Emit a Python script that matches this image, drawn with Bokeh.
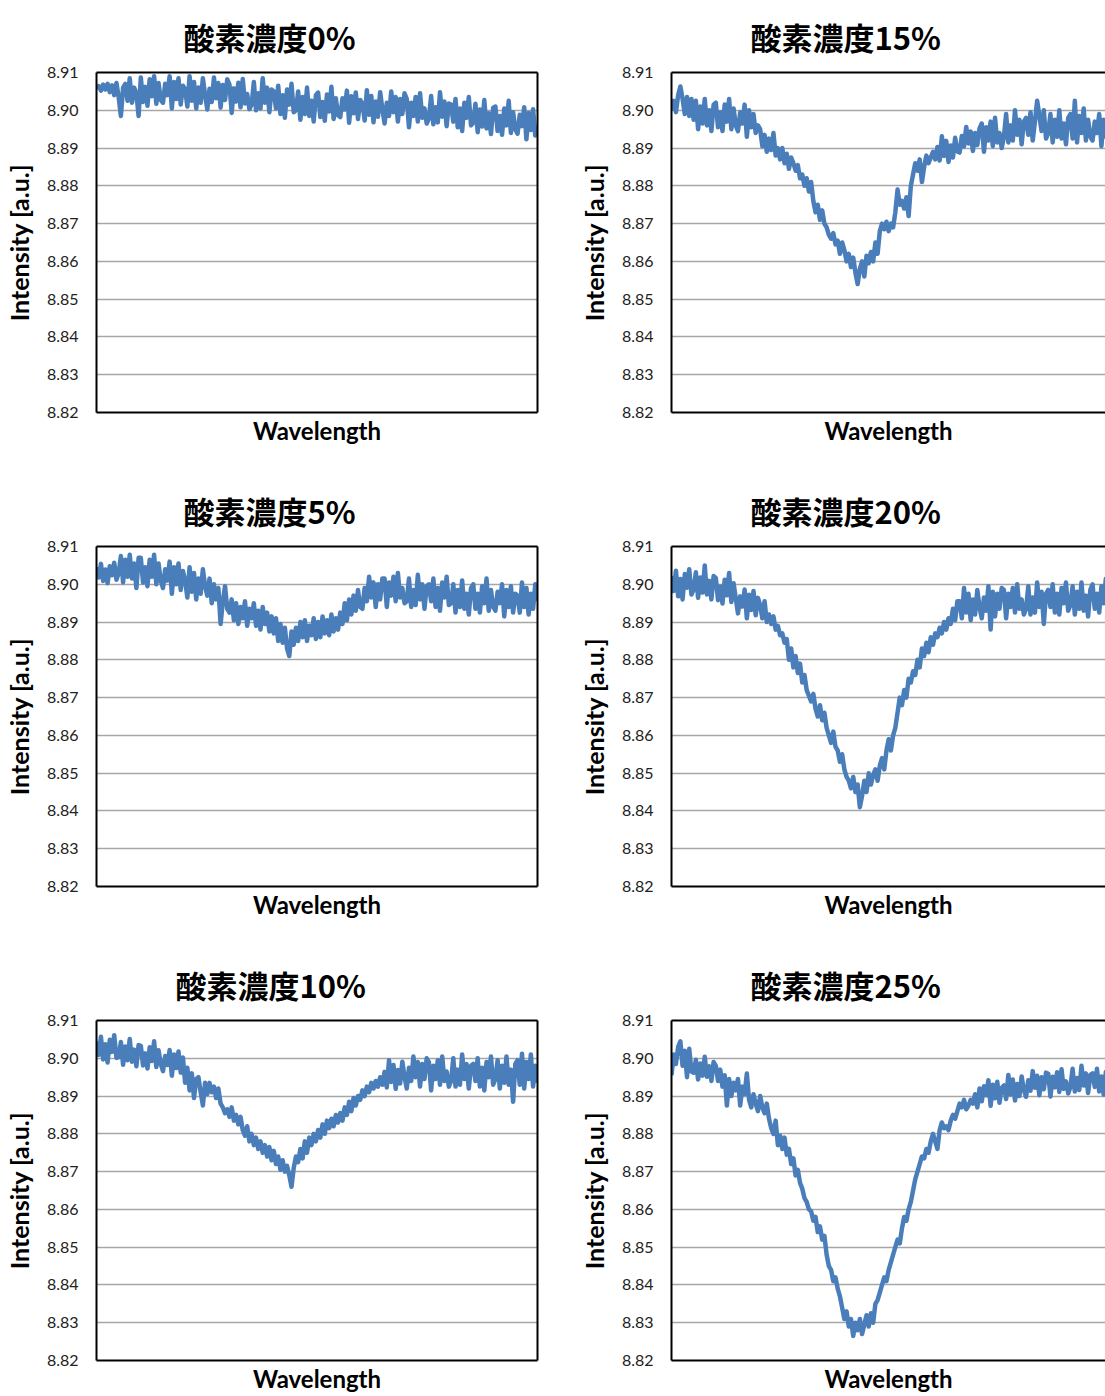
from bokeh.plotting import figure
from bokeh.layouts import gridplot
from bokeh.models import FixedTicker, NumeralTickFormatter, LinearAxis, Range1d
from bokeh.embed import file_html
from bokeh.resources import INLINE

# Panel titles (oxygen concentration) and y-axis ticks
titles = ["酸素濃度0%", "酸素濃度15%", "酸素濃度5%", "酸素濃度20%", "酸素濃度10%", "酸素濃度25%"]
y_ticks = [8.82, 8.83, 8.84, 8.85, 8.86, 8.87, 8.88, 8.89, 8.90, 8.91]

# Measured intensity spectra, one per oxygen concentration (200 samples each)
o2_0 = [
    8.9058, 8.9064, 8.9052, 8.9068, 8.9055, 8.9070, 8.9048, 8.9066, 8.9040, 8.9072,
    8.9035, 8.8985, 8.9060, 8.9070, 8.9025, 8.9085, 8.9020, 8.9060, 8.9045, 8.8985,
    8.9087, 8.9022, 8.9062, 8.9012, 8.9082, 8.9037, 8.9090, 8.9017, 8.9072, 8.9027,
    8.9020, 8.9070, 8.9040, 8.9090, 8.9005, 8.9075, 8.9030, 8.9085, 8.9015, 8.9065,
    8.9055, 8.9010, 8.9090, 8.9025, 8.9075, 8.9005, 8.9060, 8.9020, 8.9085, 8.9040,
    8.9002, 8.9057, 8.9022, 8.9087, 8.9032, 8.9072, 8.9007, 8.9067, 8.9027, 8.9082,
    8.9068, 8.8993, 8.9058, 8.9023, 8.9073, 8.9008, 8.9083, 8.9018, 8.9043, 8.9003,
    8.9015, 8.9075, 8.9000, 8.9045, 8.9005, 8.9085, 8.9020, 8.9060, 8.8995, 8.9055,
    8.9050, 8.9005, 8.9065, 8.8990, 8.9040, 8.8980, 8.9055, 8.9015, 8.9070, 8.8995,
    8.9000, 8.9050, 8.8975, 8.9035, 8.8990, 8.9060, 8.8985, 8.9025, 8.8970, 8.9040,
    8.9047, 8.8982, 8.9022, 8.8972, 8.9042, 8.8997, 8.9062, 8.8977, 8.9032, 8.8987,
    8.8982, 8.9032, 8.9002, 8.9052, 8.8967, 8.9037, 8.8992, 8.9047, 8.8977, 8.9027,
    8.9018, 8.8973, 8.9053, 8.8988, 8.9038, 8.8968, 8.9023, 8.8983, 8.9048, 8.9003,
    8.8965, 8.9020, 8.8985, 8.9050, 8.8995, 8.9035, 8.8970, 8.9030, 8.8990, 8.9045,
    8.9030, 8.8955, 8.9020, 8.8985, 8.9035, 8.8970, 8.9045, 8.8980, 8.9005, 8.8965,
    8.8978, 8.9038, 8.8963, 8.9008, 8.8968, 8.9048, 8.8983, 8.9023, 8.8958, 8.9018,
    8.9015, 8.8970, 8.9030, 8.8955, 8.9005, 8.8945, 8.9020, 8.8980, 8.9035, 8.8960,
    8.8967, 8.9017, 8.8942, 8.9002, 8.8957, 8.9027, 8.8952, 8.8992, 8.8937, 8.9007,
    8.9010, 8.8945, 8.8985, 8.8935, 8.9005, 8.8960, 8.9025, 8.8940, 8.8995, 8.8950,
    8.8938, 8.8988, 8.8958, 8.9008, 8.8923, 8.8993, 8.8948, 8.9003, 8.8933, 8.8958,
]
o2_5 = [
    8.9045, 8.9018, 8.9054, 8.9009, 8.9039, 8.9003, 8.9048, 8.9024, 8.9057, 8.9012,
    8.9030, 8.9075, 8.9005, 8.9065, 8.9020, 8.9078, 8.9015, 8.9055, 8.8990, 8.9070,
    8.9070, 8.9005, 8.9045, 8.8995, 8.9065, 8.9020, 8.9078, 8.9000, 8.9055, 8.9010,
    8.8990, 8.9040, 8.9010, 8.9060, 8.8975, 8.9045, 8.9000, 8.9055, 8.8985, 8.9035,
    8.9010, 8.8965, 8.9045, 8.8980, 8.9030, 8.8960, 8.9015, 8.8975, 8.9040, 8.8995,
    8.8970, 8.9015, 8.8950, 8.9000, 8.8960, 8.8990, 8.8895, 8.8955, 8.8995, 8.8935,
    8.8925, 8.8960, 8.8905, 8.8950, 8.8895, 8.8940, 8.8910, 8.8955, 8.8890, 8.8935,
    8.8910, 8.8950, 8.8890, 8.8930, 8.8880, 8.8940, 8.8895, 8.8925, 8.8875, 8.8915,
    8.8870, 8.8910, 8.8850, 8.8895, 8.8845, 8.8885, 8.8830, 8.8810, 8.8875, 8.8840,
    8.8885, 8.8850, 8.8900, 8.8860, 8.8905, 8.8850, 8.8890, 8.8865, 8.8910, 8.8855,
    8.8900, 8.8860, 8.8915, 8.8870, 8.8905, 8.8865, 8.8920, 8.8875, 8.8910, 8.8880,
    8.8925, 8.8895, 8.8950, 8.8905, 8.8960, 8.8920, 8.8970, 8.8930, 8.8985, 8.8940,
    8.8935, 8.8990, 8.8955, 8.9020, 8.8965, 8.9005, 8.8940, 8.9000, 8.8960, 8.9015,
    8.9015, 8.8940, 8.9005, 8.8970, 8.9020, 8.8955, 8.9030, 8.8965, 8.8990, 8.8950,
    8.8955, 8.9015, 8.8940, 8.8985, 8.8945, 8.9025, 8.8960, 8.9000, 8.8935, 8.8995,
    8.9000, 8.8955, 8.9015, 8.8940, 8.8990, 8.8930, 8.9005, 8.8965, 8.9020, 8.8945,
    8.8950, 8.9000, 8.8925, 8.8985, 8.8940, 8.9010, 8.8935, 8.8975, 8.8920, 8.8990,
    8.9000, 8.8935, 8.8975, 8.8925, 8.8995, 8.8950, 8.9015, 8.8930, 8.8985, 8.8940,
    8.8930, 8.8980, 8.8950, 8.9000, 8.8915, 8.8985, 8.8940, 8.8995, 8.8925, 8.8975,
    8.8970, 8.8925, 8.9005, 8.8940, 8.8990, 8.8920, 8.8975, 8.8935, 8.9000, 8.8955,
]
o2_10 = [
    8.9045, 8.9009, 8.9057, 8.8997, 8.9037, 8.8989, 8.9049, 8.9017, 8.9061, 8.9001,
    8.9003, 8.9043, 8.8983, 8.9031, 8.8995, 8.9051, 8.8991, 8.9023, 8.8979, 8.9035,
    8.9033, 8.8981, 8.9013, 8.8973, 8.9029, 8.8993, 8.9045, 8.8977, 8.9021, 8.8985,
    8.8966, 8.9006, 8.8982, 8.9022, 8.8954, 8.9010, 8.8974, 8.9018, 8.8962, 8.9002,
    8.8935, 8.8975, 8.8915, 8.8960, 8.8895, 8.8945, 8.8950, 8.8910, 8.8875, 8.8935,
    8.8905, 8.8935, 8.8910, 8.8925, 8.8895, 8.8920, 8.8880, 8.8870, 8.8855, 8.8865,
    8.8845, 8.8870, 8.8835, 8.8850, 8.8825, 8.8845, 8.8810, 8.8795, 8.8820, 8.8780,
    8.8800, 8.8770, 8.8790, 8.8760, 8.8780, 8.8750, 8.8770, 8.8740, 8.8765, 8.8730,
    8.8755, 8.8720, 8.8740, 8.8705, 8.8730, 8.8700, 8.8715, 8.8690, 8.8660, 8.8710,
    8.8740, 8.8725, 8.8760, 8.8735, 8.8780, 8.8750, 8.8790, 8.8770, 8.8800, 8.8780,
    8.8810, 8.8790, 8.8825, 8.8800, 8.8835, 8.8815, 8.8840, 8.8820, 8.8850, 8.8830,
    8.8855, 8.8835, 8.8870, 8.8850, 8.8885, 8.8860, 8.8895, 8.8875, 8.8900, 8.8890,
    8.8915, 8.8900, 8.8925, 8.8910, 8.8935, 8.8920, 8.8940, 8.8925, 8.8950, 8.8930,
    8.8964, 8.8923, 8.8995, 8.8937, 8.8982, 8.8919, 8.8969, 8.8933, 8.8991, 8.8951,
    8.8920, 8.8975, 8.8940, 8.9005, 8.8950, 8.8990, 8.8925, 8.8985, 8.8945, 8.9000,
    8.8990, 8.8915, 8.8980, 8.8945, 8.8995, 8.8930, 8.9005, 8.8940, 8.8965, 8.8925,
    8.8940, 8.9000, 8.8925, 8.8970, 8.8930, 8.9010, 8.8945, 8.8985, 8.8920, 8.8980,
    8.8985, 8.8940, 8.9000, 8.8925, 8.8975, 8.8915, 8.8990, 8.8950, 8.9005, 8.8930,
    8.8945, 8.8995, 8.8920, 8.8980, 8.8935, 8.9005, 8.8930, 8.8970, 8.8885, 8.8985,
    8.8995, 8.8930, 8.9012, 8.8920, 8.8990, 8.8945, 8.9010, 8.8925, 8.8980, 8.8935,
]
o2_15 = [
    8.9000, 8.9025, 8.8995, 8.9040, 8.9063, 8.9030, 8.8990, 8.9035, 8.8985, 8.9030,
    8.8975, 8.9025, 8.8950, 8.9010, 8.8965, 8.9030, 8.8960, 8.9000, 8.8945, 8.9015,
    8.9020, 8.8955, 8.8995, 8.8945, 8.9015, 8.8970, 8.9030, 8.8950, 8.9005, 8.8960,
    8.8945, 8.8995, 8.8965, 8.9015, 8.8930, 8.9000, 8.8955, 8.8990, 8.8940, 8.8960,
    8.8950, 8.8905, 8.8935, 8.8890, 8.8925, 8.8895, 8.8940, 8.8880, 8.8900, 8.8870,
    8.8900, 8.8860, 8.8885, 8.8845, 8.8875, 8.8860, 8.8840, 8.8855, 8.8820, 8.8830,
    8.8800, 8.8820, 8.8785, 8.8810, 8.8760, 8.8730, 8.8750, 8.8710, 8.8735, 8.8700,
    8.8690, 8.8670, 8.8660, 8.8675, 8.8645, 8.8655, 8.8620, 8.8650, 8.8630, 8.8600,
    8.8620, 8.8585, 8.8610, 8.8570, 8.8540, 8.8580, 8.8600, 8.8560, 8.8615, 8.8595,
    8.8625, 8.8600, 8.8650, 8.8620, 8.8680, 8.8700, 8.8685, 8.8705, 8.8680, 8.8700,
    8.8690, 8.8730, 8.8790, 8.8750, 8.8760, 8.8740, 8.8770, 8.8720, 8.8800, 8.8830,
    8.8860, 8.8840, 8.8870, 8.8810, 8.8850, 8.8880, 8.8860, 8.8875, 8.8890, 8.8870,
    8.8903, 8.8867, 8.8931, 8.8879, 8.8919, 8.8863, 8.8907, 8.8875, 8.8927, 8.8891,
    8.8888, 8.8932, 8.8904, 8.8956, 8.8912, 8.8944, 8.8892, 8.8940, 8.8908, 8.8952,
    8.8965, 8.8890, 8.8955, 8.8920, 8.8970, 8.8905, 8.8980, 8.8915, 8.8940, 8.8900,
    8.8930, 8.8990, 8.8915, 8.8960, 8.8920, 8.9000, 8.8935, 8.8975, 8.8910, 8.8970,
    8.8980, 8.8935, 8.8995, 8.8920, 8.8970, 8.9025, 8.8985, 8.8945, 8.9000, 8.8925,
    8.8940, 8.8990, 8.8915, 8.8975, 8.8930, 8.9000, 8.8925, 8.8965, 8.8910, 8.8980,
    8.8990, 8.8925, 8.9025, 8.8915, 8.8985, 8.8940, 8.9005, 8.8920, 8.8975, 8.8930,
    8.8920, 8.8970, 8.8940, 8.8990, 8.8905, 8.8975, 8.8930, 8.8985, 8.8915, 8.8965,
]
o2_20 = [
    8.9022, 8.8982, 8.9036, 8.8968, 8.9014, 8.8960, 8.9027, 8.8991, 8.9040, 8.8973,
    8.8986, 8.9032, 8.8964, 8.9018, 8.8978, 8.9050, 8.8973, 8.9009, 8.8960, 8.9022,
    8.9017, 8.8958, 8.8994, 8.8949, 8.9012, 8.8971, 8.9030, 8.8953, 8.9003, 8.8963,
    8.8923, 8.8968, 8.8941, 8.8986, 8.8910, 8.8972, 8.8932, 8.8982, 8.8918, 8.8964,
    8.8945, 8.8910, 8.8955, 8.8900, 8.8920, 8.8895, 8.8915, 8.8880, 8.8890, 8.8865,
    8.8870, 8.8845, 8.8855, 8.8800, 8.8830, 8.8780, 8.8810, 8.8765, 8.8790, 8.8740,
    8.8760, 8.8720, 8.8705, 8.8690, 8.8710, 8.8670, 8.8650, 8.8680, 8.8640, 8.8660,
    8.8620, 8.8600, 8.8580, 8.8610, 8.8570, 8.8560, 8.8530, 8.8550, 8.8510, 8.8490,
    8.8480, 8.8460, 8.8490, 8.8450, 8.8470, 8.8410, 8.8440, 8.8480, 8.8450, 8.8500,
    8.8470, 8.8495, 8.8510, 8.8480, 8.8520, 8.8540, 8.8510, 8.8560, 8.8590, 8.8560,
    8.8600, 8.8620, 8.8660, 8.8700, 8.8680, 8.8720, 8.8700, 8.8750, 8.8740, 8.8770,
    8.8760, 8.8800, 8.8780, 8.8830, 8.8810, 8.8845, 8.8820, 8.8860, 8.8840, 8.8870,
    8.8860, 8.8885, 8.8870, 8.8900, 8.8880, 8.8910, 8.8895, 8.8935, 8.8905, 8.8955,
    8.8955, 8.8910, 8.8990, 8.8925, 8.8975, 8.8905, 8.8960, 8.8920, 8.8985, 8.8940,
    8.8910, 8.8965, 8.8930, 8.8995, 8.8880, 8.8980, 8.8915, 8.8975, 8.8935, 8.8990,
    8.8985, 8.8910, 8.8975, 8.8940, 8.8990, 8.8925, 8.9000, 8.8935, 8.8960, 8.8920,
    8.8935, 8.8995, 8.8920, 8.8965, 8.8925, 8.9005, 8.8940, 8.8980, 8.8895, 8.8975,
    8.8985, 8.8940, 8.9000, 8.8925, 8.8975, 8.8920, 8.8990, 8.8950, 8.9005, 8.8930,
    8.8945, 8.8995, 8.8920, 8.8980, 8.8935, 8.9005, 8.8930, 8.8970, 8.8915, 8.8985,
    8.9000, 8.8935, 8.8975, 8.8925, 8.8995, 8.8950, 8.9015, 8.8930, 8.8985, 8.8940,
]
o2_25 = [
    8.8955, 8.9010, 8.8985, 8.9030, 8.9045, 8.8980, 8.9020, 8.8950, 8.9025, 8.8965,
    8.8962, 8.8996, 8.8944, 8.8986, 8.8954, 8.9004, 8.8951, 8.8979, 8.8940, 8.8990,
    8.8980, 8.8940, 8.8970, 8.8925, 8.8955, 8.8875, 8.8945, 8.8900, 8.8935, 8.8915,
    8.8945, 8.8875, 8.8925, 8.8905, 8.8960, 8.8890, 8.8870, 8.8905, 8.8880, 8.8860,
    8.8900, 8.8870, 8.8855, 8.8880, 8.8840, 8.8815, 8.8800, 8.8835, 8.8770, 8.8795,
    8.8760, 8.8790, 8.8745, 8.8760, 8.8720, 8.8735, 8.8690, 8.8705, 8.8670, 8.8655,
    8.8630, 8.8620, 8.8600, 8.8595, 8.8570, 8.8580, 8.8540, 8.8555, 8.8520, 8.8530,
    8.8480, 8.8450, 8.8440, 8.8410, 8.8420, 8.8390, 8.8370, 8.8340, 8.8310, 8.8330,
    8.8290, 8.8310, 8.8265, 8.8300, 8.8280, 8.8310, 8.8270, 8.8295, 8.8320, 8.8290,
    8.8325, 8.8300, 8.8350, 8.8360, 8.8380, 8.8400, 8.8420, 8.8410, 8.8440, 8.8460,
    8.8480, 8.8500, 8.8520, 8.8510, 8.8550, 8.8580, 8.8570, 8.8600, 8.8620, 8.8650,
    8.8680, 8.8700, 8.8720, 8.8740, 8.8735, 8.8760, 8.8750, 8.8780, 8.8800, 8.8780,
    8.8760, 8.8810, 8.8830, 8.8815, 8.8820, 8.8810, 8.8835, 8.8850, 8.8840, 8.8860,
    8.8880, 8.8870, 8.8890, 8.8865, 8.8875, 8.8890, 8.8880, 8.8905, 8.8870, 8.8920,
    8.8886, 8.8926, 8.8902, 8.8942, 8.8874, 8.8930, 8.8894, 8.8938, 8.8882, 8.8922,
    8.8928, 8.8892, 8.8956, 8.8904, 8.8944, 8.8888, 8.8932, 8.8900, 8.8952, 8.8916,
    8.8898, 8.8942, 8.8914, 8.8966, 8.8922, 8.8954, 8.8902, 8.8950, 8.8918, 8.8962,
    8.8959, 8.8899, 8.8951, 8.8923, 8.8963, 8.8911, 8.8971, 8.8919, 8.8939, 8.8907,
    8.8924, 8.8972, 8.8912, 8.8948, 8.8916, 8.8980, 8.8928, 8.8960, 8.8908, 8.8956,
    8.8960, 8.8924, 8.8972, 8.8912, 8.8952, 8.8904, 8.8964, 8.8932, 8.8972, 8.8916,
]

series = [o2_0, o2_15, o2_5, o2_20, o2_10, o2_25]

LINE_COLOR = "#4a7ebb"
GRID_COLOR = "#a6a6a6"
TICK_FONT = "Lato"
LABEL_FONT = "Lato"
TITLE_FONT = "Noto Sans CJK JP"

FULL_FRAME_W = 441
FRAME_H = 340


def border_axis():
    # plain black axis line used as a frame edge (no ticks, no labels)
    return LinearAxis(ticker=FixedTicker(ticks=[]),
                      major_label_text_font_size="0px",
                      major_tick_line_color=None, minor_tick_line_color=None,
                      axis_line_color="black", axis_line_width=2)


def make_panel(title, values, col, last_row):
    n = len(values)
    xs = list(range(n))
    # the right-hand column runs off the edge of the page
    frame_w = FULL_FRAME_W if col == 0 else 434
    x_end = (n - 1) * frame_w / FULL_FRAME_W
    bottom = 36 if last_row else 62

    p = figure(frame_width=frame_w, frame_height=FRAME_H,
               x_range=Range1d(0, x_end), y_range=Range1d(8.82, 8.91),
               min_border_left=96, min_border_right=(38 if col == 0 else 0),
               min_border_top=72, min_border_bottom=bottom,
               output_backend="svg", toolbar_location=None, tools="")
    p.outline_line_color = None
    p.background_fill_color = "white"
    p.border_fill_color = "white"

    # heading, centred over the whole panel (axis label included)
    two_digit = len(title) > 6
    p.title.text = title
    p.title.text_font = TITLE_FONT
    p.title.text_font_size = "31px"
    p.title.text_font_style = "bold"
    p.title.text_color = "black"
    p.title.align = "left"
    p.title.vertical_align = "middle"
    p.title.offset = 79 if two_digit else 87
    p.title.standoff = 25

    yax = p.yaxis[0]
    yax.ticker = FixedTicker(ticks=y_ticks)
    yax.formatter = NumeralTickFormatter(format="0.00")
    yax.major_tick_line_color = None
    yax.minor_tick_line_color = None
    yax.axis_line_color = "black"
    yax.axis_line_width = 2
    yax.major_label_text_font = TICK_FONT
    yax.major_label_text_font_size = "16px"
    yax.major_label_text_color = "#222222"
    yax.major_label_standoff = 12
    yax.axis_label = "Intensity [a.u.]"
    yax.axis_label_text_font = LABEL_FONT
    yax.axis_label_text_font_size = "25px"
    yax.axis_label_text_font_style = "bold"
    yax.axis_label_text_color = "black"
    yax.axis_label_standoff = 10

    xax = p.xaxis[0]
    xax.ticker = FixedTicker(ticks=[])
    xax.major_label_text_font_size = "0px"
    xax.major_tick_line_color = None
    xax.minor_tick_line_color = None
    xax.axis_line_color = "black"
    xax.axis_line_width = 2
    xax.axis_label = "Wavelength"
    xax.axis_label_text_font = LABEL_FONT
    xax.axis_label_text_font_size = "24px"
    xax.axis_label_text_font_style = "bold"
    xax.axis_label_text_color = "black"
    xax.axis_label_standoff = 3

    # top edge, and the right edge where the panel is fully visible
    p.add_layout(border_axis(), "above")
    if col == 0:
        p.add_layout(border_axis(), "right")

    p.xgrid.visible = False
    p.ygrid.ticker = FixedTicker(ticks=y_ticks)
    p.ygrid.grid_line_color = GRID_COLOR
    p.ygrid.grid_line_width = 1.5

    p.line(xs, values, line_color=LINE_COLOR, line_width=4.5, line_join="round")
    return p


panels = []
for k, (t, v) in enumerate(zip(titles, series)):
    panels.append(make_panel(t, v, k % 2, k >= 4))

grid = gridplot([panels[0:2], panels[2:4], panels[4:6]], toolbar_location=None)

open("out.html", "w").write(file_html(grid, INLINE))
